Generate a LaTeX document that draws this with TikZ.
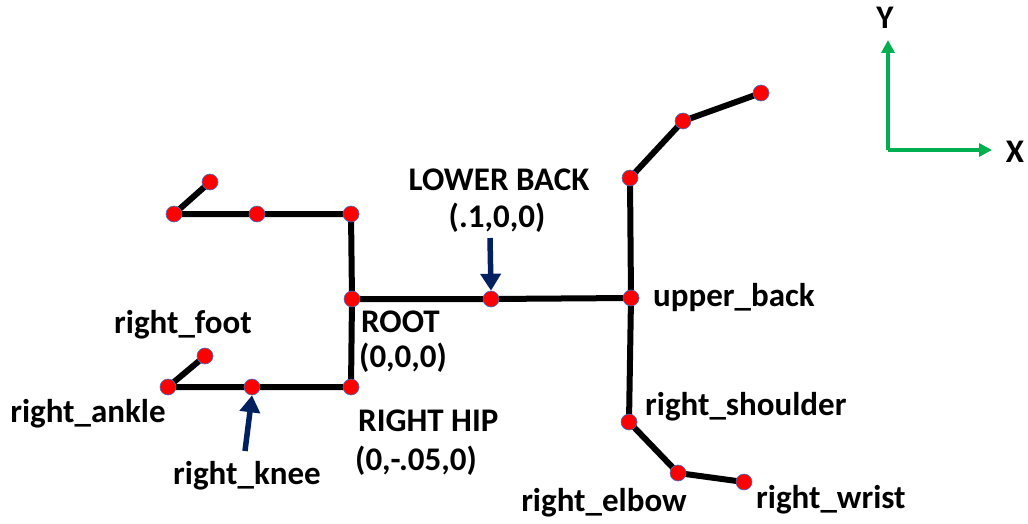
\documentclass[tikz,border=0pt]{standalone}
\usepackage{fontspec}
\setmainfont{Carlito}
\usetikzlibrary{arrows.meta}
\definecolor{navy}{RGB}{0,32,96}
\definecolor{axisgreen}{RGB}{0,176,80}
\definecolor{dotedge}{RGB}{68,114,196}
\tikzset{
  bone/.style={line width=6pt, black},
  joint/.style={circle, fill=red, draw=dotedge, line width=0.6pt, minimum size=16pt, inner sep=0pt},
  lbl/.style={font=\fontsize{33}{40}\selectfont\bfseries, inner sep=0pt},
  pointer/.style={navy, line width=5.5pt, -{Triangle[width=20pt,length=17pt]}},
  axis/.style={axisgreen, line width=3.5pt, -{Triangle[width=13pt,length=13pt]}},
}
\begin{document}
\begin{tikzpicture}[x=1pt,y=-1pt]
\useasboundingbox (0,0) rectangle (1028,524);
% joints
\coordinate (lfoot) at (210,182);
\coordinate (lankle) at (174,214);
\coordinate (lknee) at (257,214);
\coordinate (lhip) at (351,214);
\coordinate (root) at (352,299);
\coordinate (rhip) at (351,387);
\coordinate (rknee) at (252,387);
\coordinate (rankle) at (168,387);
\coordinate (rfoot) at (205,356);
\coordinate (lback) at (491,299);
\coordinate (uback) at (631,298);
\coordinate (lshoulder) at (630,178);
\coordinate (lelbow) at (683,121);
\coordinate (lwrist) at (761,93);
\coordinate (rshoulder) at (629,422);
\coordinate (relbow) at (678,473);
\coordinate (rwrist) at (744,482);
% bones
\draw[bone] (lfoot) -- (lankle) -- (lknee) -- (lhip) -- (root) -- (rhip) -- (rknee) -- (rankle) -- (rfoot);
\draw[bone] (root) -- (lback) -- (uback);
\draw[bone] (lwrist) -- (lelbow) -- (lshoulder) -- (uback) -- (rshoulder) -- (relbow) -- (rwrist);
% dots
\foreach \j in {lfoot,lankle,lknee,lhip,root,rhip,rknee,rankle,rfoot,lback,uback,lshoulder,lelbow,lwrist,rshoulder,relbow,rwrist}
  \node[joint] (\j-dot) at (\j) {};
% labels
\node[lbl] (tlb) at (499,180) {LOWER BACK};
\node[lbl] (tlbc) at (497,218) {(.1,0,0)};
\node[lbl, anchor=west] (troot) at (361,322) {ROOT};
\node[lbl, anchor=west] (trootc) at (359,358) {(0,0,0)};
\node[lbl, anchor=west] (thip) at (358,421) {RIGHT HIP};
\node[lbl, anchor=west] (thipc) at (355,461) {(0,-.05,0)};
\node[lbl, anchor=west] (tub) at (653,298) {upper\_back};
\node[lbl, anchor=west] (tsh) at (645,407) {right\_shoulder};
\node[lbl] (tel) at (604,503) {right\_elbow};
\node[lbl, anchor=west] (twr) at (756,500) {right\_wrist};
\node[lbl] (tft) at (183,325) {right\_foot};
\node[lbl] (tan) at (88,414) {right\_ankle};
\node[lbl] (tkn) at (247,476) {right\_knee};
% pointers
\coordinate (plb) at (490,238);
\draw[pointer] (plb) -- (lback-dot.north);
\coordinate (pkn) at (245,451);
\draw[pointer] (pkn) -- (rknee-dot.south);
% axes
\coordinate (o) at (888,150);
\coordinate (ytip) at (888,40);
\coordinate (xtip) at (992,150);
\draw[axis] (o) -- (ytip);
\draw[axis] (o) -- (xtip);
\node[lbl] (ty) at (885,18) {Y};
\node[lbl] (tx) at (1015,152) {X};
\end{tikzpicture}
\end{document}
